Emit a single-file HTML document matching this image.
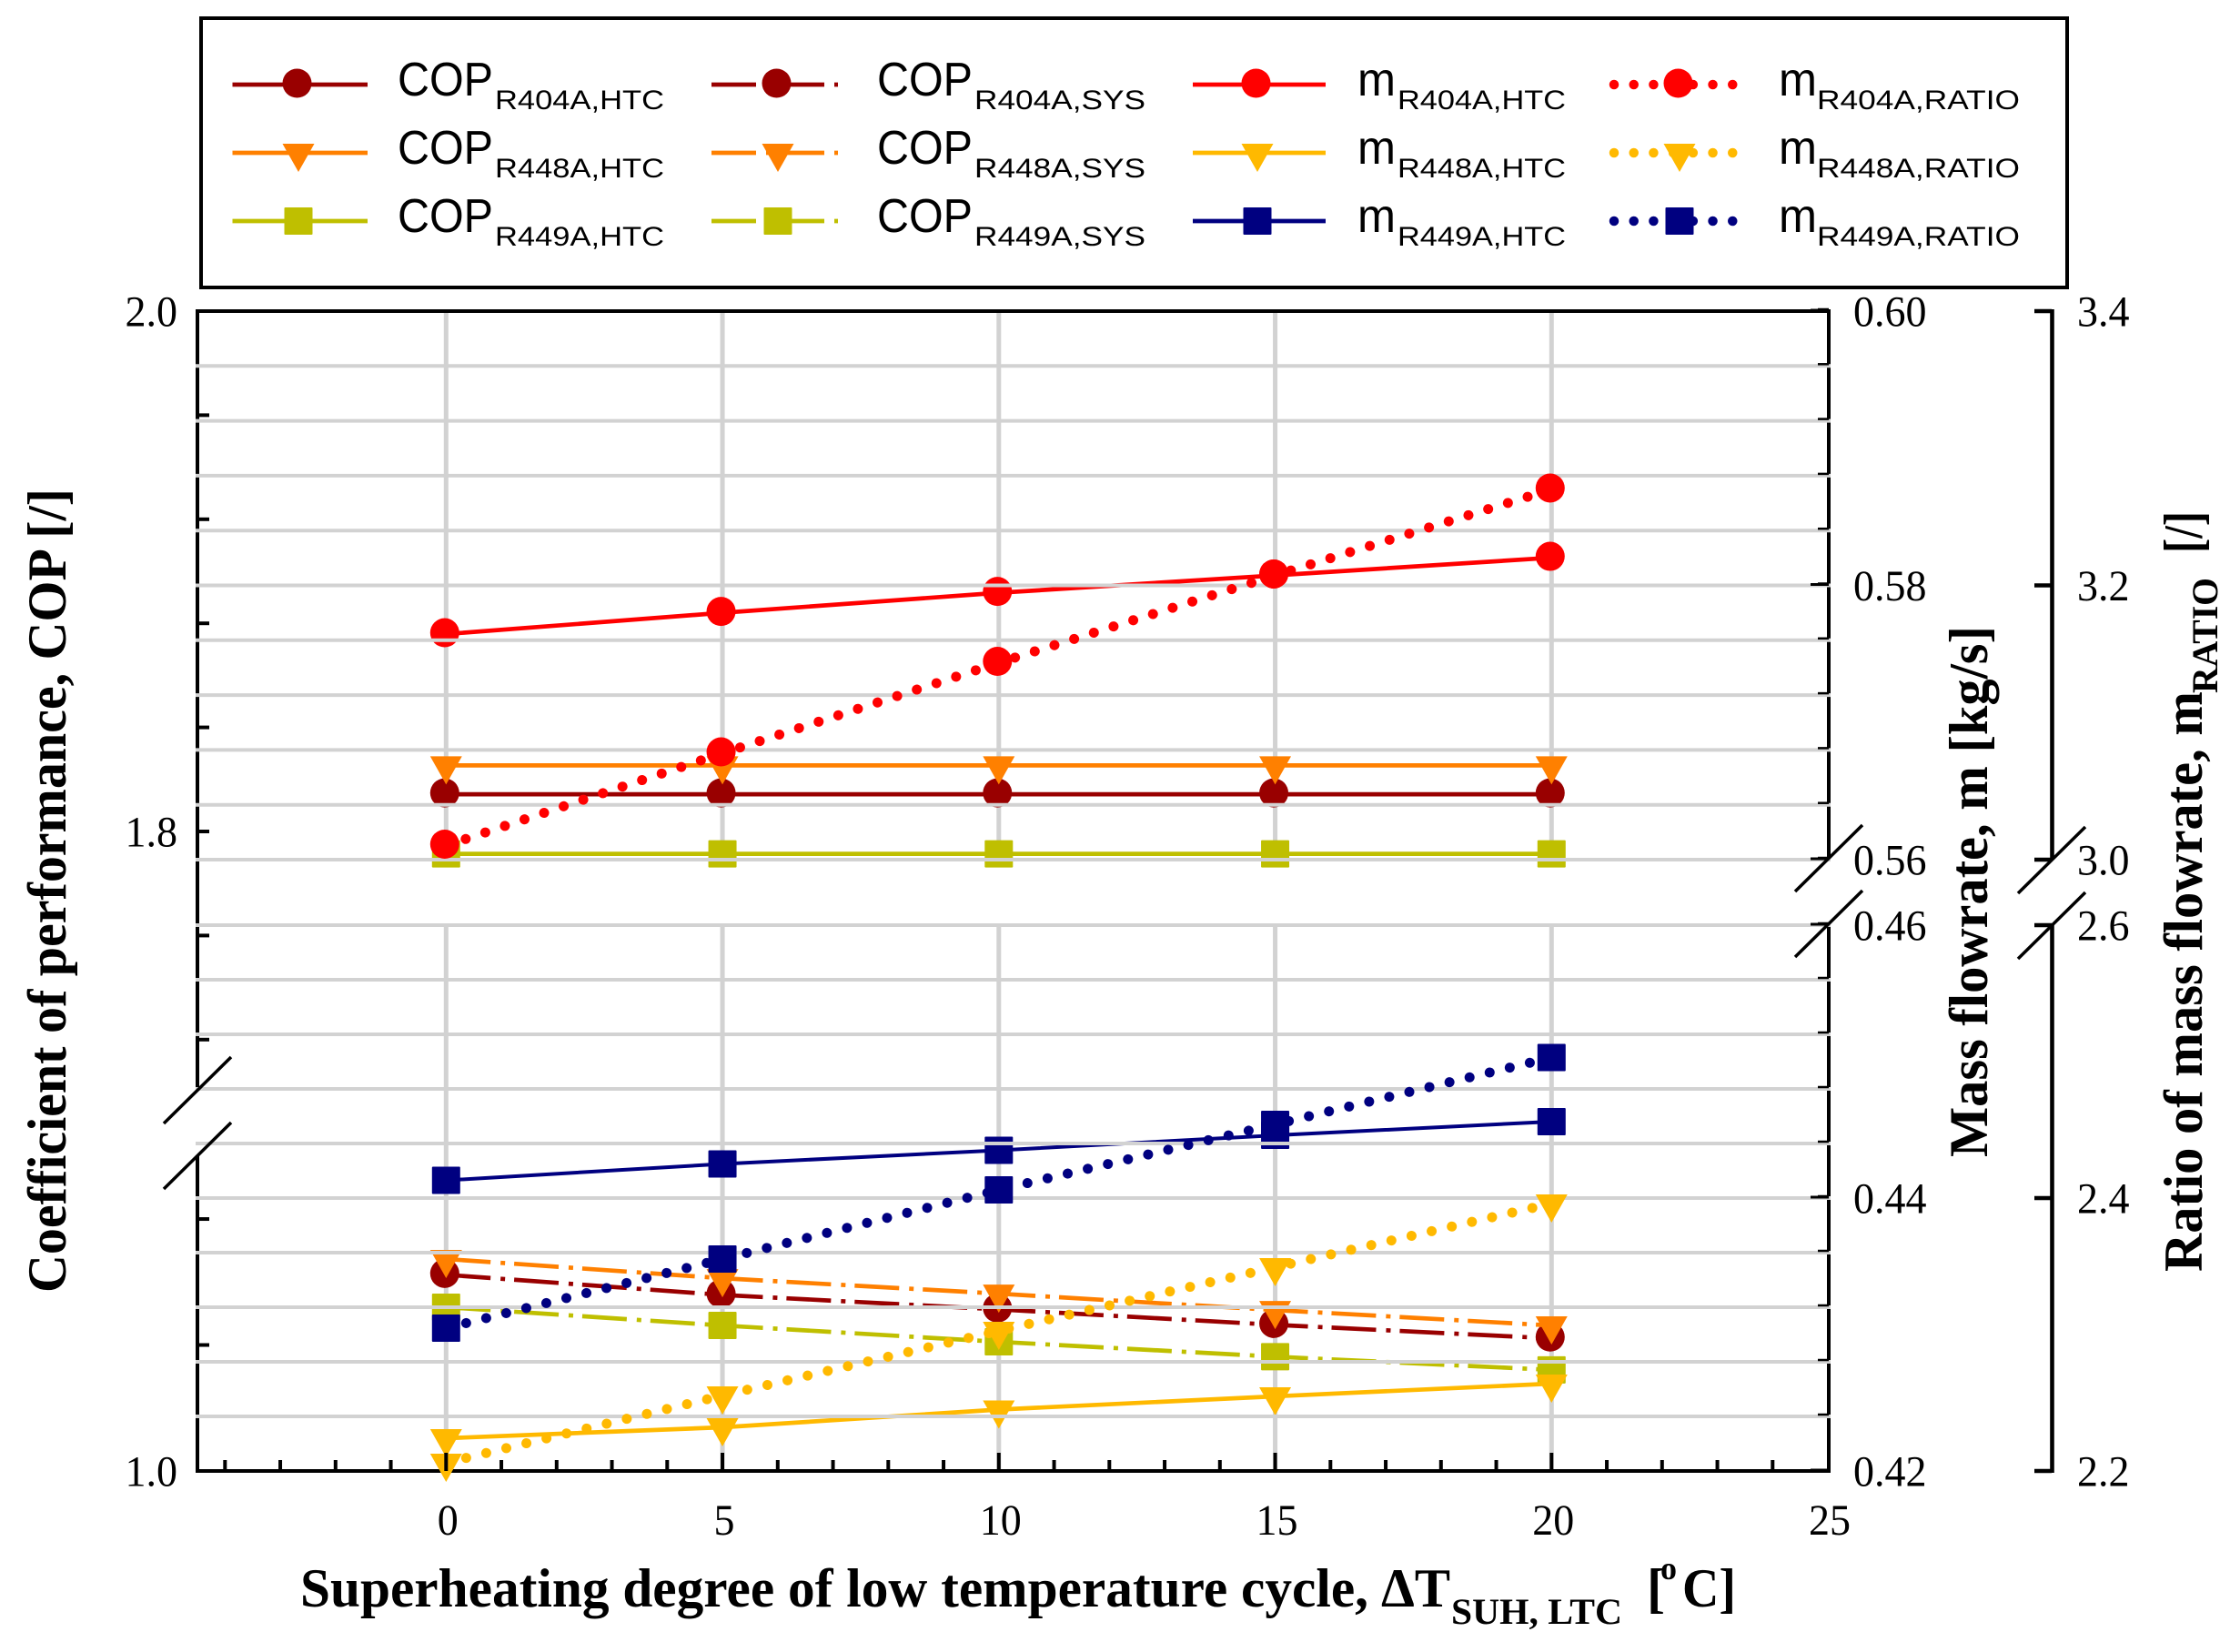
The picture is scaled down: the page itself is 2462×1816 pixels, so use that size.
<!DOCTYPE html>
<html lang="en">
<head>
<meta charset="utf-8">
<title>Superheating degree chart</title>
<style>
html,body{margin:0;padding:0;background:#fff;}
svg{display:block;}
text{font-family:"Liberation Serif",serif;fill:#000;}
.s{font-family:"Liberation Sans",sans-serif;}
.t{font-weight:bold;font-size:60px;}
.n{font-size:48px;}
</style>
</head>
<body>
<svg id="chart" xmlns="http://www.w3.org/2000/svg" width="2462" height="1816" viewBox="0 0 2462 1816">
<rect x="0" y="0" width="2462" height="1816" fill="#fff"/>
<g id="plot"></g>

<g>
<rect x="221" y="20" width="2051" height="296" fill="none" stroke="#000" stroke-width="4"/>
<g id="legend-marks"></g>
<g class="s" font-family="Liberation Sans">
<g><text class="s" x="437" y="105" font-size="52" textLength="105" lengthAdjust="spacingAndGlyphs">COP</text><text class="s" x="544" y="120" font-size="30" textLength="186" lengthAdjust="spacingAndGlyphs">R404A,HTC</text></g>
<g><text class="s" x="437" y="180" font-size="52" textLength="105" lengthAdjust="spacingAndGlyphs">COP</text><text class="s" x="544" y="195" font-size="30" textLength="186" lengthAdjust="spacingAndGlyphs">R448A,HTC</text></g>
<g><text class="s" x="437" y="255" font-size="52" textLength="105" lengthAdjust="spacingAndGlyphs">COP</text><text class="s" x="544" y="270" font-size="30" textLength="186" lengthAdjust="spacingAndGlyphs">R449A,HTC</text></g>
<g><text class="s" x="964" y="105" font-size="52" textLength="105" lengthAdjust="spacingAndGlyphs">COP</text><text class="s" x="1071" y="120" font-size="30" textLength="188" lengthAdjust="spacingAndGlyphs">R404A,SYS</text></g>
<g><text class="s" x="964" y="180" font-size="52" textLength="105" lengthAdjust="spacingAndGlyphs">COP</text><text class="s" x="1071" y="195" font-size="30" textLength="188" lengthAdjust="spacingAndGlyphs">R448A,SYS</text></g>
<g><text class="s" x="964" y="255" font-size="52" textLength="105" lengthAdjust="spacingAndGlyphs">COP</text><text class="s" x="1071" y="270" font-size="30" textLength="188" lengthAdjust="spacingAndGlyphs">R449A,SYS</text></g>
<g><text class="s" x="1492" y="105" font-size="52" textLength="42" lengthAdjust="spacingAndGlyphs">m</text><text class="s" x="1536" y="120" font-size="30" textLength="185" lengthAdjust="spacingAndGlyphs">R404A,HTC</text></g>
<g><text class="s" x="1492" y="180" font-size="52" textLength="42" lengthAdjust="spacingAndGlyphs">m</text><text class="s" x="1536" y="195" font-size="30" textLength="185" lengthAdjust="spacingAndGlyphs">R448A,HTC</text></g>
<g><text class="s" x="1492" y="255" font-size="52" textLength="42" lengthAdjust="spacingAndGlyphs">m</text><text class="s" x="1536" y="270" font-size="30" textLength="185" lengthAdjust="spacingAndGlyphs">R449A,HTC</text></g>
<g><text class="s" x="1955" y="105" font-size="52" textLength="42" lengthAdjust="spacingAndGlyphs">m</text><text class="s" x="1997" y="120" font-size="30" textLength="223" lengthAdjust="spacingAndGlyphs">R404A,RATIO</text></g>
<g><text class="s" x="1955" y="180" font-size="52" textLength="42" lengthAdjust="spacingAndGlyphs">m</text><text class="s" x="1997" y="195" font-size="30" textLength="223" lengthAdjust="spacingAndGlyphs">R448A,RATIO</text></g>
<g><text class="s" x="1955" y="255" font-size="52" textLength="42" lengthAdjust="spacingAndGlyphs">m</text><text class="s" x="1997" y="270" font-size="30" textLength="223" lengthAdjust="spacingAndGlyphs">R449A,RATIO</text></g>
</g>
</g>

<g>
<text class="t" x="330" y="1766" textLength="1174" lengthAdjust="spacingAndGlyphs">Superheating degree of low temperature cycle,</text>
<text class="t" x="1518" y="1766" textLength="76" lengthAdjust="spacingAndGlyphs">ΔT</text>
<text x="1595" y="1785" font-size="40" font-weight="bold" textLength="188" lengthAdjust="spacingAndGlyphs">SUH, LTC</text>
<text class="t" x="1810" y="1766">[</text>
<text x="1825" y="1736" font-size="36" font-weight="bold">o</text>
<text class="t" x="1849" y="1766" textLength="59" lengthAdjust="spacingAndGlyphs">C]</text>
</g>
<text class="t" transform="translate(72 1421) rotate(-90)" textLength="884" lengthAdjust="spacingAndGlyphs">Coefficient of performance, COP [/]</text>
<text class="t" transform="translate(2184 1272) rotate(-90)" textLength="584" lengthAdjust="spacingAndGlyphs">Mass flowrate, m [kg/s]</text>
<g>
<text class="t" transform="translate(2420 1398) rotate(-90)" textLength="638" lengthAdjust="spacingAndGlyphs">Ratio of mass flowrate, m</text>
<text transform="translate(2437 762) rotate(-90)" font-size="40" font-weight="bold" textLength="127" lengthAdjust="spacingAndGlyphs">RATIO</text>
<text class="t" transform="translate(2420 608) rotate(-90)" textLength="46" lengthAdjust="spacingAndGlyphs">[/]</text>
</g>
</svg>

<script>
const superheat = [0, 5, 10, 15, 20];

const copR404Htc = [1.8143, 1.8143, 1.8143, 1.8143, 1.8143];
const copR448Htc = [1.8254, 1.8254, 1.8254, 1.8254, 1.8254];
const copR449Htc = [1.7914, 1.7914, 1.7914, 1.7914, 1.7914];
const copR404Sys = [1.0623, 1.0559, 1.0513, 1.0464, 1.0421];
const copR448Sys = [1.0673, 1.0612, 1.0563, 1.0511, 1.0462];
const copR449Sys = [1.0520, 1.0462, 1.0410, 1.0363, 1.0321];

const mR404Htc = [0.57645, 0.5780, 0.57946, 0.58073, 0.58202];
const mR448Htc = [0.4224, 0.4232, 0.4245, 0.42547, 0.4264];
const mR449Htc = [0.4413, 0.4425, 0.4435, 0.4446, 0.4456];

const ratioR404 = [3.0103, 3.0776, 3.1436, 3.2073, 3.2700];
const ratioR448 = [2.2060, 2.2553, 2.3027, 2.3493, 2.3960];
const ratioR449 = [2.3047, 2.3553, 2.4060, 2.4540, 2.5030];

const xTickLabels = ['0', '5', '10', '15', '20', '25'];
const xMinorTicks = [-4, -3, -2, -1, 1, 2, 3, 4, 6, 7, 8, 9, 11, 12, 13, 14, 16, 17, 18, 19, 21, 22, 23, 24];
const copTickLabels = ['2.0', '1.8', '1.0'];
const copMinorTicks = [1.96, 1.92, 1.88, 1.84, 1.76, 1.72, 1.08, 1.04];
const massTickLabels = ['0.60', '0.58', '0.56', '0.46', '0.44', '0.42'];
const massGridValues = [0.600, 0.596, 0.592, 0.588, 0.584, 0.580, 0.576, 0.572, 0.568, 0.564, 0.560, 0.460, 0.456, 0.452, 0.448, 0.444, 0.440, 0.436, 0.432, 0.428, 0.424];
const ratioTickLabels = ['3.4', '3.2', '3.0', '2.6', '2.4', '2.2'];

function xScale(v) { return 490.3 + 60.75 * v; }
function yCop(v) { return v >= 1.5 ? 914 - (v - 1.8) * 2860 : 1617 - (v - 1) * 3462; }
function yMass(v) { return v >= 0.5 ? 945 - (v - 0.56) * 15075 : 1617 - (v - 0.42) * 15000; }
function yRatio(v) { return v >= 2.8 ? 945 - (v - 3) * 1507.5 : 1617 - (v - 2.2) * 1500; }
function labelWidth(label) { return label.replace('.', '').length * 23 + (label.indexOf('.') >= 0 ? 11.5 : 0); }

const NS = 'http://www.w3.org/2000/svg';
const plot = document.getElementById('plot');
const legendMarks = document.getElementById('legend-marks');

function mk(parent, tag, attrs) {
  const el = document.createElementNS(NS, tag);
  for (const k in attrs) el.setAttribute(k, attrs[k]);
  parent.appendChild(el);
  return el;
}
function line(parent, x1, y1, x2, y2, color, w) {
  return mk(parent, 'line', { x1: x1, y1: y1, x2: x2, y2: y2, stroke: color, 'stroke-width': w });
}
function marker(parent, shape, x, y, color) {
  let el;
  if (shape === 'circle') {
    el = mk(parent, 'circle', { cx: x - 1.5, cy: y - 1.5, r: 16, fill: color });
  } else if (shape === 'tri') {
    el = mk(parent, 'polygon', { points: (x - 17.5) + ',' + (y - 10) + ' ' + (x + 17.5) + ',' + (y - 10) + ' ' + x + ',' + (y + 21), fill: color });
  } else {
    el = mk(parent, 'rect', { x: x - 15.5, y: y - 15, width: 31, height: 30, fill: color, rx: 1 });
  }
  return el;
}
function tickLabel(parent, label, x, y, anchor) {
  return mk(parent, 'text', { x: x, y: y, 'text-anchor': anchor, class: 'n', textLength: labelWidth(label), lengthAdjust: 'spacingAndGlyphs' });
}

const DASHDOT = '49 11 5 10';
const DOTTED = '0.01 22.7';

function drawSeries(name, values, yFn, color, shape, w, dash, cap) {
  const g = mk(plot, 'g', {});
  
  
  const pts = values.map(function (v, i) { return xScale(superheat[i]) + ',' + yFn(v); }).join(' ');
  const attrs = { points: pts, fill: 'none', stroke: color, 'stroke-width': w };
  if (dash) attrs['stroke-dasharray'] = dash;
  if (cap) attrs['stroke-linecap'] = cap;
  const pl = mk(g, 'polyline', attrs);
  
  
  values.forEach(function (v, i) {
    const m = marker(g, shape, xScale(superheat[i]), yFn(v), color);
    
    
  });
}

/* left and right spines, second axis */
const spines = mk(plot, 'g', { stroke: '#000' });


line(spines, 217, 340, 217, 1198, '#000', 4);
line(spines, 217, 1270, 217, 1619, '#000', 4);
line(spines, 2010, 340, 2010, 945, '#000', 4);
line(spines, 2010, 1017, 2010, 1619, '#000', 4);
line(spines, 2255.5, 340, 2255.5, 945, '#000', 4.6);
line(spines, 2255.5, 1017, 2255.5, 1619, '#000', 4.6);

/* vertical grid */
const vgrid = mk(plot, 'g', {});


superheat.forEach(function (v) {
  line(vgrid, xScale(v), 344, xScale(v), 945, '#d2d2d2', 5);
  line(vgrid, xScale(v), 1016, xScale(v), 1617, '#d2d2d2', 5);
});

/* top and bottom spines */
const frame = mk(plot, 'g', {});


line(frame, 215, 342, 2012, 342, '#000', 4);
line(frame, 215, 1617, 2012, 1617, '#000', 4);

/* series below the horizontal grid */
drawSeries('cop-r404a-htc', copR404Htc, yCop, '#990000', 'circle', 4.7);
drawSeries('cop-r448a-htc', copR448Htc, yCop, '#ff8000', 'tri', 4.7);
drawSeries('cop-r449a-htc', copR449Htc, yCop, '#bfbf00', 'square', 4.7);
drawSeries('cop-r404a-sys', copR404Sys, yCop, '#990000', 'circle', 4.7, DASHDOT);
drawSeries('cop-r448a-sys', copR448Sys, yCop, '#ff8000', 'tri', 4.7, DASHDOT);
drawSeries('cop-r449a-sys', copR449Sys, yCop, '#bfbf00', 'square', 4.7, DASHDOT);
drawSeries('m-r404a-htc', mR404Htc, yMass, '#ff0000', 'circle', 4.7);
drawSeries('m-r448a-htc', mR448Htc, yMass, '#ffb900', 'tri', 4.7);
drawSeries('m-r449a-htc', mR449Htc, yMass, '#000080', 'square', 4);

/* horizontal grid */
const hgrid = mk(plot, 'g', {});


massGridValues.forEach(function (v) {
  if (v === 0.6) return;
  line(hgrid, 215, yMass(v), 2012, yMass(v), '#d2d2d2', 4);
});

/* ratio series above the grid */
drawSeries('m-r404a-ratio', ratioR404, yRatio, '#ff0000', 'circle', 11, DOTTED, 'round');
drawSeries('m-r448a-ratio', ratioR448, yRatio, '#ffb900', 'tri', 11, DOTTED, 'round');
drawSeries('m-r449a-ratio', ratioR449, yRatio, '#000080', 'square', 11, DOTTED, 'round');

/* x ticks and labels */
const xAxis = mk(plot, 'g', {});


xMinorTicks.forEach(function (v) {
  line(xAxis, xScale(v), 1617, xScale(v), 1605, '#000', 4);
});
xTickLabels.forEach(function (label) {
  const v = Number(label);
  if (v !== 25) line(xAxis, xScale(v), 1617, xScale(v), 1597, '#000', 4);
  const t = tickLabel(xAxis, label, xScale(v) + 2, 1687, 'middle');
  t.textContent = label;
  
  
});

/* COP axis */
const copAxis = mk(plot, 'g', {});


copMinorTicks.forEach(function (v) {
  line(copAxis, 217, yCop(v), 230, yCop(v), '#000', 4);
});
copTickLabels.forEach(function (label) {
  const v = Number(label);
  line(copAxis, 217, yCop(v), 230, yCop(v), '#000', 4);
  const t = tickLabel(copAxis, label, 195, yCop(v) + 16.5, 'end');
  t.textContent = label;
  
  
});

/* mass axis */
const massAxis = mk(plot, 'g', {});


massGridValues.forEach(function (v) {
  line(massAxis, 1998, yMass(v) - 2, 2010, yMass(v) - 2, '#000', 2.5);
});
massTickLabels.forEach(function (label) {
  const v = Number(label);
  line(massAxis, 1990, yMass(v) - 1, 2010, yMass(v) - 1, '#000', 3);
  const t = tickLabel(massAxis, label, 2037, yMass(v) + 16.5, 'start');
  t.textContent = label;
  
  
});

/* ratio axis */
const ratioAxis = mk(plot, 'g', {});


ratioTickLabels.forEach(function (label) {
  const v = Number(label);
  line(ratioAxis, 2236, yRatio(v), 2255, yRatio(v), '#000', 4.6);
  const t = tickLabel(ratioAxis, label, 2283, yRatio(v) + 16.5, 'start');
  t.textContent = label;
  
  
});

/* axis break marks */
const breaks = mk(plot, 'g', {});


line(breaks, 180, 1235, 254, 1162, '#000', 3.5);
line(breaks, 180, 1307, 254, 1234, '#000', 3.5);
line(breaks, 1973, 980, 2047, 907, '#000', 3.5);
line(breaks, 1973, 1052, 2047, 979, '#000', 3.5);
line(breaks, 2218, 982, 2292, 909, '#000', 3.5);
line(breaks, 2218, 1054, 2292, 981, '#000', 3.5);

/* legend glyphs */
const legendColumns = [
  { x1: 255.5, x2: 404, mx: 328, dash: null, w: 4.7, colors: ['#990000', '#ff8000', '#bfbf00'], prefix: 'cop-htc' },
  { x1: 782, x2: 921, mx: 855, dash: DASHDOT, w: 4.7, colors: ['#990000', '#ff8000', '#bfbf00'], prefix: 'cop-sys' },
  { x1: 1311, x2: 1457, mx: 1382, dash: null, w: 4.7, colors: ['#ff0000', '#ffb900', '#000080'], prefix: 'm-htc' },
  { x1: 1774, x2: 1906, mx: 1846, dash: '0.01 21.7', w: 10.5, colors: ['#ff0000', '#ffb900', '#000080'], prefix: 'm-ratio' }
];
const legendShapes = ['circle', 'tri', 'square'];
const legendRowY = [93, 168, 243];
legendColumns.forEach(function (col) {
  legendRowY.forEach(function (y, r) {
    const attrs = { x1: col.x1, y1: y, x2: col.x2, y2: y, stroke: col.colors[r], 'stroke-width': col.w };
    if (col.dash) attrs['stroke-dasharray'] = col.dash;
    if (col.dash === '0.01 21.7') attrs['stroke-linecap'] = 'round';
    const l = mk(legendMarks, 'line', attrs);
    
    
    const m = marker(legendMarks, legendShapes[r], col.mx, y, col.colors[r]);
    
    
  });
});
</script>
</body>
</html>
